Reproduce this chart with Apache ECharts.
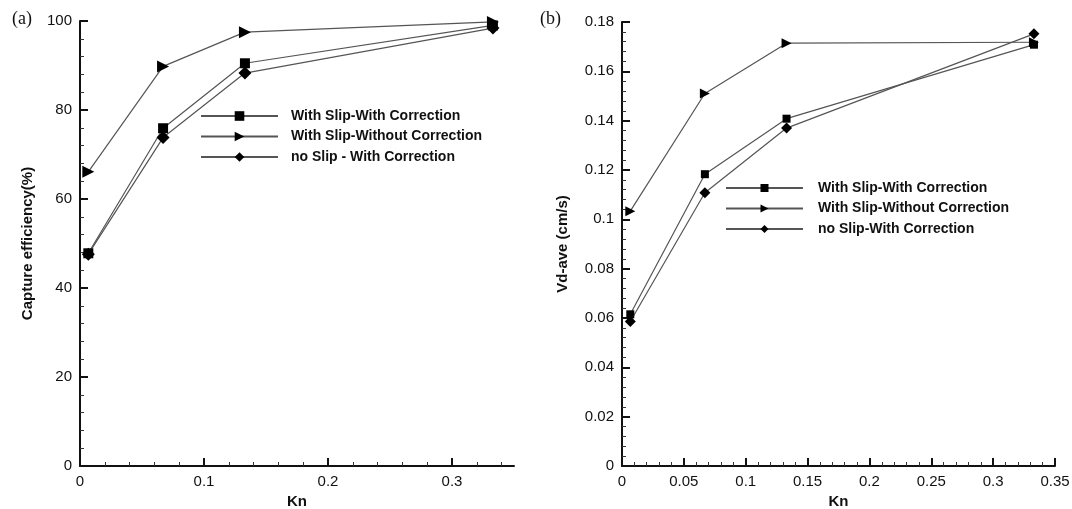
<!DOCTYPE html>
<html>
<head>
<meta charset="utf-8">
<script src="https://cdn.jsdelivr.net/npm/echarts@6/dist/echarts.min.js"></script>
<style>
  html, body { margin: 0; padding: 0; background: #fff; }
  #chart { width: 1072px; height: 509px; }
</style>
</head>
<body>
<div id="chart"></div>
<script>
// Kn values (same for both panels)
const kn = [0.0067, 0.067, 0.133, 0.333];

// (a) capture efficiency (%)
const capSlipCorr = [47.8, 75.9, 90.5, 99.0];
const capSlipNoCorr = [66.1, 89.8, 97.5, 99.8];
const capNoSlipCorr = [47.6, 73.8, 88.3, 98.4];

// (b) Vd-ave (cm/s)
const vdSlipCorr = [0.0615, 0.1183, 0.1408, 0.1708];
const vdSlipNoCorr = [0.1033, 0.1510, 0.1714, 0.1718];
const vdNoSlipCorr = [0.0586, 0.1108, 0.1370, 0.1752];

const namesA = ['With Slip-With Correction', 'With Slip-Without Correction', 'no Slip - With Correction'];
const namesB = ['With Slip-With Correction', 'With Slip-Without Correction', 'no Slip-With Correction'];
const xTicksA = [0, 0.1, 0.2, 0.3];

const font = "'Liberation Sans', Arial, sans-serif";
const pair = (xs, ys) => xs.map((x, i) => [x, ys[i]]);

function axisCommon() {
  return {
    axisLine: { show: true, onZero: false, lineStyle: { color: '#111', width: 2 } },
    axisTick: { show: true, inside: true, length: 8, lineStyle: { color: '#111', width: 2 } },
    minorTick: { show: true, length: 4, lineStyle: { color: '#333', width: 1 } },
    splitLine: { show: false },
    axisLabel: { color: '#111', fontSize: 15, fontFamily: font, margin: 8 },
    nameTextStyle: { color: '#111', fontSize: 15, fontWeight: 'bold', fontFamily: font },
    nameLocation: 'middle'
  };
}

function line(name, data, xi, symbol, size, rotate) {
  return {
    type: 'line',
    name: name,
    xAxisIndex: xi,
    yAxisIndex: xi,
    data: data,
    symbol: symbol,
    symbolSize: size,
    symbolRotate: rotate || 0,
    showAllSymbol: true,
    lineStyle: { color: '#555', width: 1.2 },
    itemStyle: { color: '#000' },
    z: 3
  };
}

const chart = echarts.init(document.getElementById('chart'), null, { renderer: 'canvas' });

const xA = Object.assign(axisCommon(), {
  type: 'value', gridIndex: 0, min: 0, max: 0.35, interval: 0.1,
  name: 'Kn', nameGap: 28
});
xA.axisTick = Object.assign({}, xA.axisTick, { customValues: xTicksA });
xA.axisLabel = Object.assign({}, xA.axisLabel, { customValues: xTicksA });

chart.setOption({
  backgroundColor: '#fff',
  animation: false,
  grid: [
    { left: 80, right: 558, top: 21, bottom: 43, outerBoundsMode: 'none', containLabel: false },
    { left: 622, right: 17, top: 22, bottom: 43, outerBoundsMode: 'none', containLabel: false }
  ],
  xAxis: [
    xA,
    Object.assign(axisCommon(), {
      type: 'value', gridIndex: 1, min: 0, max: 0.35, interval: 0.05,
      name: 'Kn', nameGap: 28
    })
  ],
  yAxis: [
    Object.assign(axisCommon(), {
      type: 'value', gridIndex: 0, min: 0, max: 100, interval: 20,
      name: 'Capture efficiency(%)', nameGap: 45
    }),
    Object.assign(axisCommon(), {
      type: 'value', gridIndex: 1, min: 0, max: 0.18, interval: 0.02,
      name: 'Vd-ave (cm/s)', nameGap: 52
    })
  ],
  legend: [
    {
      orient: 'vertical', left: 195, top: 104, itemWidth: 77, itemHeight: 12, itemGap: 6.5,
      data: namesA,
      textStyle: { color: '#111', fontSize: 14, fontWeight: 'bold', fontFamily: font, padding: [0, 0, 0, 8] },
      selectedMode: false
    },
    {
      orient: 'vertical', left: 720, top: 176, itemWidth: 77, itemHeight: 10, itemGap: 6.5,
      data: namesB,
      textStyle: { color: '#111', fontSize: 14, fontWeight: 'bold', fontFamily: font, padding: [0, 0, 0, 10] },
      selectedMode: false
    }
  ],
  graphic: [
    { type: 'text', left: 12, top: 10, style: { text: '(a)', font: "18px 'Liberation Serif', serif", fill: '#111' } },
    { type: 'text', left: 540, top: 10, style: { text: '(b)', font: "18px 'Liberation Serif', serif", fill: '#111' } }
  ],
  series: [
    line(namesA[0], pair(kn, capSlipCorr), 0, 'rect', 10),
    line(namesA[1], pair(kn, capSlipNoCorr), 0, 'triangle', 12, -90),
    line(namesA[2], pair(kn, capNoSlipCorr), 0, 'diamond', 13),
    line(namesB[0], pair(kn, vdSlipCorr), 1, 'rect', 8),
    line(namesB[1], pair(kn, vdSlipNoCorr), 1, 'triangle', 10, -90),
    line(namesB[2], pair(kn, vdNoSlipCorr), 1, 'diamond', 11)
  ]
});
</script>
</body>
</html>
